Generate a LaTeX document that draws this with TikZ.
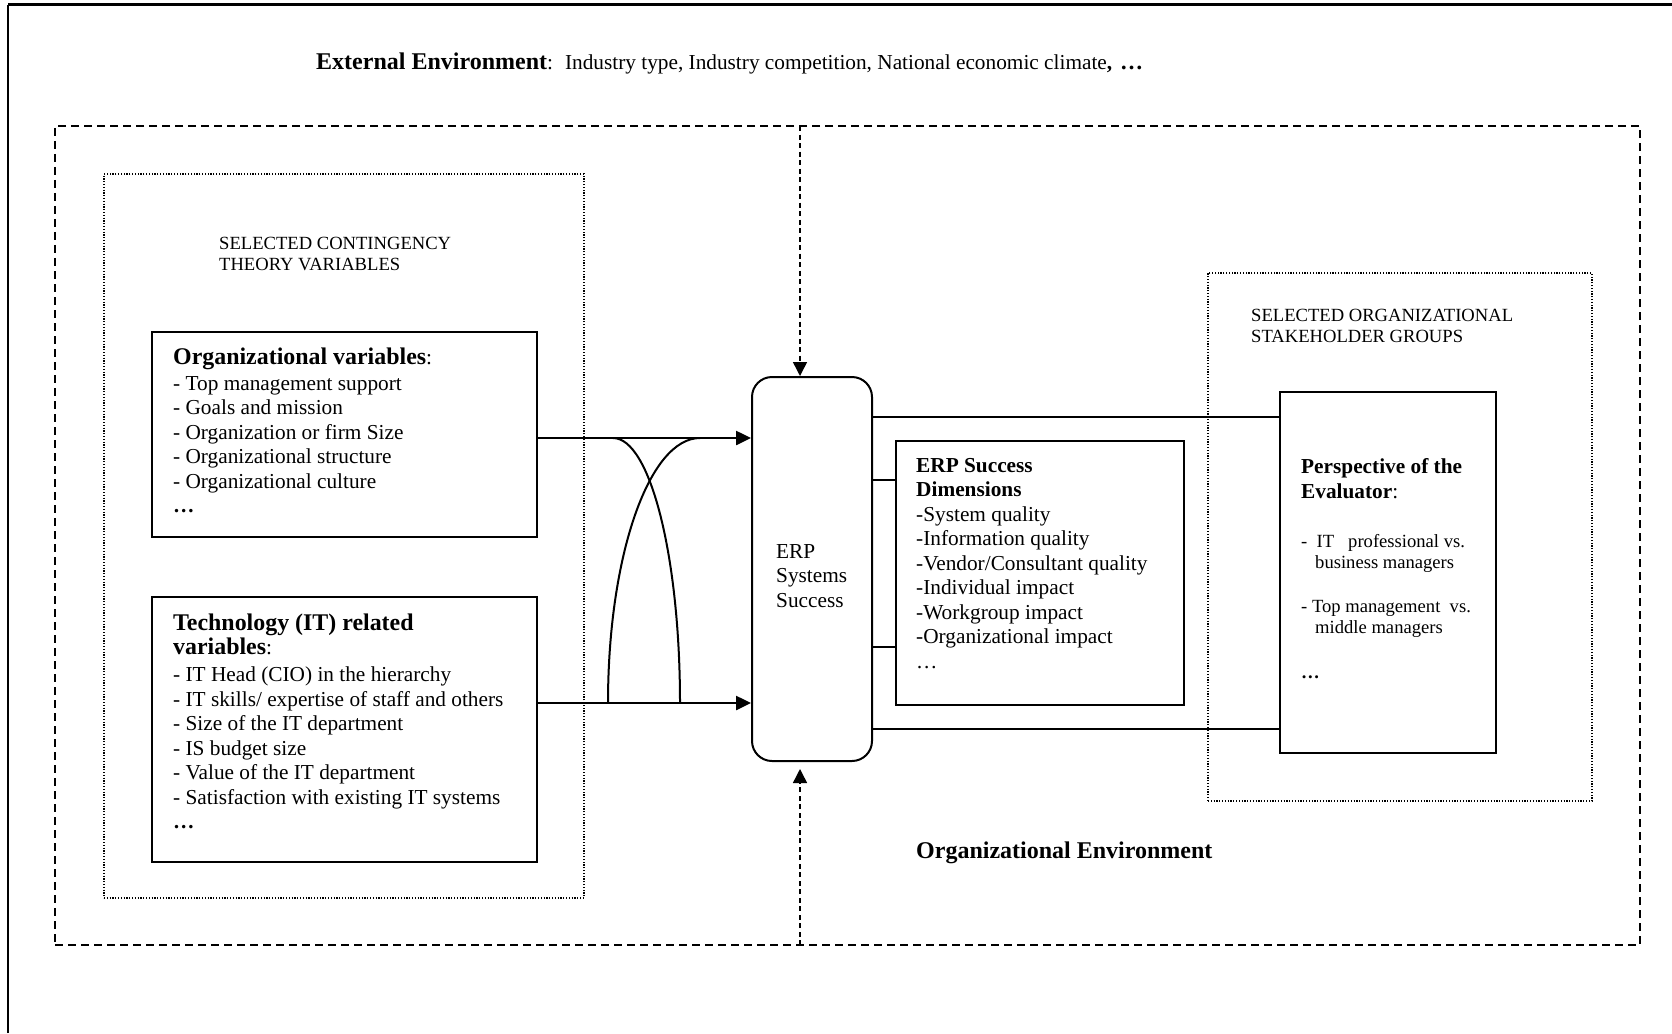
\documentclass[tikz,border=0pt]{standalone}
\usepackage{fontspec}
\setmainfont{Liberation Serif}
\usetikzlibrary{arrows.meta}
\newcommand{\txtblock}[1]{\begin{tabular}[t]{@{}l@{}}#1\end{tabular}}
\newcommand{\bigb}{\fontsize{23.9}{24.5}\selectfont\bfseries}
\tikzset{
  box/.style={draw, line width=2pt, inner sep=0pt},
  txt/.style={anchor=base west, inner sep=0pt, font=\fontsize{21.3}{24.5}\selectfont},
  smalltxt/.style={anchor=base west, inner sep=0pt, font=\fontsize{18.6}{21.2}\selectfont},
  arr/.style={line width=2.5pt, -{Triangle[length=15pt,width=14pt]}},
  conn/.style={line width=2.5pt},
  cross/.style={line width=2pt},
  dotbox/.style={draw, line width=1.2pt, dash pattern=on 1.2pt off 1.6pt, inner sep=0pt},
  envbox/.style={draw, line width=2pt, dash pattern=on 8pt off 5pt, inner sep=0pt},
  divline/.style={line width=1.5pt, dash pattern=on 5pt off 3.5pt, -{Triangle[length=14pt,width=14pt]}},
}
\begin{document}
\begin{tikzpicture}[x=1pt,y=-1pt]
\useasboundingbox (0,0) rectangle (1672,1033);
% page frame (top and left only)
\coordinate (fbl) at (8,1033);
\coordinate (ftl) at (8,5);
\coordinate (ftr) at (1672,5);
\draw[line width=2pt] (fbl) -- (ftl);
\draw[line width=3pt] (ftl) -- (ftr);

% environment boxes
\node[envbox, minimum width=1585pt, minimum height=819pt] (env) at (847.5,535.5) {};
\node[dotbox, minimum width=480pt, minimum height=724pt] (leftgrp) at (344,536) {};
\node[dotbox, minimum width=384pt, minimum height=528pt] (rightgrp) at (1400,537) {};

% main boxes
\node[box, minimum width=385pt, minimum height=205pt] (org) at (344.5,434.5) {};
\node[box, minimum width=385pt, minimum height=265pt] (tech) at (344.5,729.5) {};
\node[box, rounded corners=20pt, minimum width=120pt, minimum height=384pt] (erp) at (812,569) {};
\node[box, minimum width=288pt, minimum height=264pt] (dim) at (1040,573) {};
\node[box, minimum width=216pt, minimum height=361pt] (persp) at (1388,572.5) {};

% texts
\node[txt] (exttxt) at (316,70) {{\fontsize{24}{25}\selectfont\bfseries External Environment}:\hspace{12pt}Industry type, Industry competition, National economic climate\textbf{,\hspace{8pt}{\fontsize{23}{25}\selectfont\dots}}};
\node[smalltxt] (conttxt) at (219,249) {\txtblock{SELECTED CONTINGENCY\\THEORY VARIABLES}};
\node[txt] (orgtxt) at (173,364) {\txtblock{{\bigb Organizational variables}:\\[1.5pt]
- Top management support\\
- Goals and mission\\
- Organization or firm Size\\
- Organizational structure\\
- Organizational culture\\
\textbf{\dots}}};
\node[txt] (techtxt) at (173,630) {\txtblock{{\bigb Technology (IT) related}\\
{\bigb variables}:\\[2.5pt]
- IT Head (CIO) in the hierarchy\\
- IT skills/ expertise of staff and others\\
- Size of the IT department\\
- IS budget size\\
- Value of the IT department\\
- Satisfaction with existing IT systems\\
\textbf{\dots}}};
\node[txt] (erptxt) at (776,558) {\txtblock{ERP\\Systems\\Success}};
\node[txt] (dimtxt) at (916,472) {\txtblock{\textbf{ERP Success}\\
\textbf{Dimensions}\\
-System quality\\
-Information quality\\
-Vendor/Consultant quality\\
-Individual impact\\
-Workgroup impact\\
-Organizational impact\\
…}};
\node[smalltxt] (stktxt) at (1251,321) {\txtblock{SELECTED ORGANIZATIONAL\\STAKEHOLDER GROUPS}};
\node[txt] (persptitle) at (1301,473) {\txtblock{\textbf{Perspective of the}\\[0.5pt]\textbf{Evaluator}:}};
\node[smalltxt] (persptxt) at (1301,547) {\txtblock{-\ \ IT\ \ \ professional vs.\\
\hspace{14pt}business managers\\[23pt]
- Top management\ \ vs.\\
\hspace{14pt}middle managers\\[24pt]
\textbf{\dots}}};
\node[anchor=base west, inner sep=0pt, font=\fontsize{24}{25}\selectfont\bfseries] (orgenv) at (916,858) {Organizational Environment};

% connectors left
\coordinate (ya) at (0,438);
\coordinate (yb) at (0,703);
\draw[arr] (org.east |- ya) -- (erp.west |- ya);
\draw[arr] (tech.east |- yb) -- (erp.west |- yb);
\coordinate (c1s) at (613,438);
\coordinate (c1e) at (680,703);
\coordinate (c2s) at (700,438);
\coordinate (c2e) at (608,703);
\draw[cross] (c1s) .. controls (650,438) and (680,556) .. (c1e);
\draw[cross] (c2s) .. controls (649,438) and (608,556) .. (c2e);

% connectors right
\coordinate (yc) at (0,417);
\coordinate (yd) at (0,729);
\coordinate (ye) at (0,480);
\coordinate (yf) at (0,647);
\draw[conn] (erp.east |- yc) -- (persp.west |- yc);
\draw[conn] (erp.east |- yd) -- (persp.west |- yd);
\draw[cross] (erp.east |- ye) -- (dim.west |- ye);
\draw[cross] (erp.east |- yf) -- (dim.west |- yf);

% environment influences
\coordinate (dtop) at (800,126);
\coordinate (dbot) at (800,945);
\coordinate (btip) at (800,769);
\draw[divline] (dtop) -- (dtop |- erp.north);
\draw[divline] (dbot) -- (btip);
\end{tikzpicture}
\end{document}
